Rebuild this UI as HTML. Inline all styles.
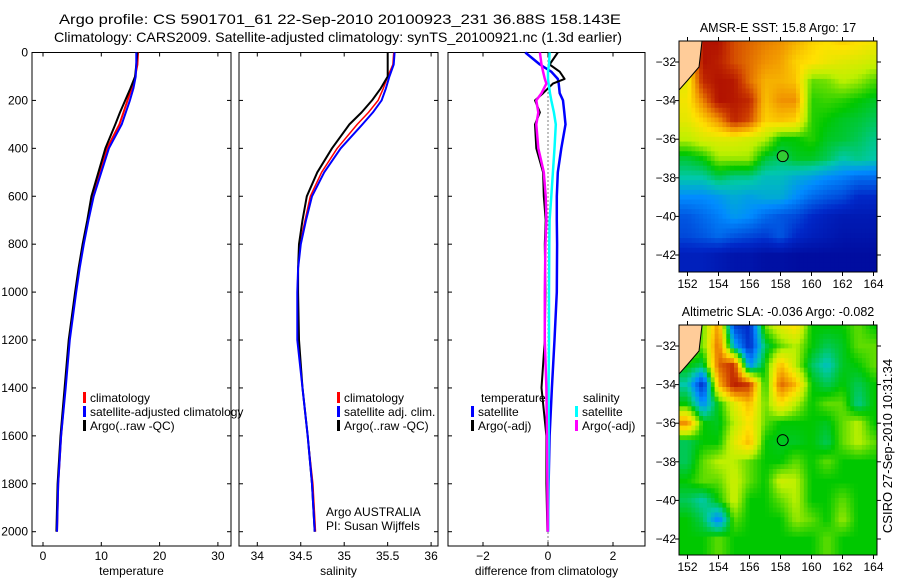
<!DOCTYPE html>
<html><head><meta charset="utf-8">
<style>
body{margin:0;background:#fff;}
svg{display:block;font-family:"Liberation Sans",sans-serif;}
text{font-size:12px;fill:#000;}
</style></head>
<body>
<svg id="chart" width="900" height="580" viewBox="0 0 900 580">
<text x="59" y="24" textLength="562" lengthAdjust="spacingAndGlyphs" style="font-size:14px">Argo profile: CS 5901701_61 22-Sep-2010 20100923_231 36.88S 158.143E</text>
<text x="54" y="42" textLength="568" lengthAdjust="spacingAndGlyphs" style="font-size:14px">Climatology: CARS2009. Satellite-adjusted climatology: synTS_20100921.nc (1.3d earlier)</text>
<text x="892" y="446" text-anchor="middle" transform="rotate(-90 892 446)" style="font-size:13px">CSIRO 27-Sep-2010 10:31:34</text>
</svg>
<script>
// ---- profile data ----
const depths = [0,50,100,150,200,250,300,400,500,600,700,800,900,1000,1200,1400,1600,1800,2000];
const tempClim = [16.3,16.2,15.8,15.2,14.5,13.8,13.1,11.0,9.7,8.5,7.7,6.9,6.2,5.6,4.5,3.8,3.1,2.6,2.4];
const tempSat = [16.0,16.0,15.9,15.5,14.9,14.2,13.5,11.3,10.0,8.7,7.8,7.0,6.3,5.7,4.6,3.9,3.1,2.6,2.4];
const tempArgo = [16.2,16.0,15.8,15.0,14.1,13.2,12.4,10.7,9.5,8.3,7.6,6.8,6.1,5.5,4.4,3.7,3.0,2.5,2.3];
const salClim = [35.57,35.56,35.5,35.45,35.39,35.28,35.15,34.92,34.74,34.61,34.55,34.49,34.47,34.46,34.47,34.52,34.58,34.64,34.67];
const salSat = [35.58,35.57,35.52,35.48,35.43,35.33,35.21,34.96,34.77,34.63,34.56,34.50,34.47,34.46,34.46,34.52,34.58,34.63,34.66];
const salArgo = [35.5,35.5,35.5,35.42,35.32,35.2,35.06,34.86,34.69,34.57,34.52,34.48,34.47,34.47,34.48,34.52,34.58,34.63,34.66];
const diffDepths = [0,50,80,110,130,170,200,250,300,400,500,600,700,800,1000,1200,1400,1600,1800,2000];
const diffTempSat = [-0.7,-0.25,0.1,0.3,0.33,0.36,0.46,0.5,0.54,0.41,0.3,0.27,0.27,0.28,0.27,0.2,0.12,0.05,0.02,0.0];
const diffTempArgo = [0.3,0.05,0.36,0.51,0.15,-0.15,-0.4,-0.25,-0.4,-0.36,-0.15,-0.13,-0.07,-0.1,-0.08,-0.1,-0.2,-0.05,-0.05,-0.02];
const diffSalSat = [0.05,0.03,0.0,0.0,0.02,0.06,0.1,0.18,0.24,0.2,0.15,0.1,0.05,0.04,0.03,0.03,0.02,0.02,0.01,0.0];
const diffSalArgo = [-0.25,-0.2,-0.15,-0.1,-0.05,-0.2,-0.36,-0.3,-0.36,-0.3,-0.13,-0.07,-0.05,-0.08,-0.1,-0.1,-0.05,-0.03,-0.02,-0.01];
const depthTicks = [0,200,400,600,800,1000,1200,1400,1600,1800,2000];
const tempTicks = [0,10,20,30];
const salTicks = [34,34.5,35,35.5,36];
const diffTicks = [-2,0,2];
// ---- map data (colormap fraction, rows lat -31..-42, cols lon 152..164) ----
const mapLons = [152,153,154,155,156,157,158,159,160,161,162,163,164];
const mapLats = [-31,-32,-33,-34,-35,-36,-37,-38,-39,-40,-41,-42];
const sstGrid = [
[0.7,0.97,0.97,0.88,0.85,0.82,0.8,0.76,0.72,0.7,0.72,0.7,0.68],
[0.68,0.97,0.95,0.88,0.84,0.8,0.78,0.72,0.7,0.67,0.65,0.64,0.62],
[0.66,0.93,0.97,0.96,0.84,0.76,0.76,0.74,0.55,0.56,0.6,0.58,0.54],
[0.68,0.82,0.97,0.96,0.93,0.74,0.8,0.8,0.52,0.53,0.52,0.5,0.48],
[0.66,0.72,0.8,0.94,0.88,0.72,0.74,0.72,0.52,0.5,0.48,0.47,0.45],
[0.6,0.64,0.65,0.65,0.63,0.6,0.5,0.5,0.52,0.48,0.47,0.45,0.42],
[0.47,0.5,0.58,0.58,0.58,0.47,0.44,0.48,0.48,0.45,0.4,0.42,0.4],
[0.4,0.4,0.45,0.42,0.42,0.38,0.38,0.35,0.33,0.3,0.28,0.25,0.25],
[0.3,0.3,0.32,0.35,0.33,0.35,0.35,0.3,0.25,0.22,0.2,0.15,0.15],
[0.22,0.25,0.28,0.32,0.3,0.25,0.22,0.2,0.15,0.12,0.1,0.1,0.1],
[0.2,0.22,0.25,0.22,0.2,0.18,0.22,0.15,0.12,0.1,0.08,0.08,0.08],
[0.12,0.12,0.1,0.08,0.08,0.06,0.06,0.05,0.05,0.05,0.05,0.05,0.05]];
const slaGrid = [
[0.5,0.55,0.8,0.2,0.15,0.55,0.65,0.7,0.5,0.5,0.5,0.55,0.5],
[0.6,0.55,0.85,0.35,0.15,0.45,0.55,0.6,0.5,0.45,0.48,0.55,0.55],
[0.5,0.45,0.85,0.92,0.3,0.5,0.75,0.6,0.45,0.38,0.48,0.5,0.55],
[0.4,0.15,0.75,0.95,0.9,0.5,0.85,0.75,0.5,0.45,0.5,0.45,0.5],
[0.5,0.3,0.5,0.65,0.75,0.55,0.7,0.6,0.5,0.55,0.55,0.42,0.5],
[0.8,0.5,0.48,0.6,0.7,0.55,0.5,0.5,0.5,0.48,0.55,0.6,0.5],
[0.45,0.5,0.5,0.65,0.75,0.5,0.48,0.48,0.5,0.45,0.55,0.6,0.55],
[0.45,0.55,0.6,0.6,0.55,0.5,0.5,0.55,0.5,0.55,0.5,0.5,0.5],
[0.5,0.55,0.55,0.62,0.55,0.5,0.62,0.6,0.5,0.5,0.5,0.5,0.5],
[0.45,0.4,0.5,0.62,0.5,0.5,0.55,0.6,0.5,0.5,0.55,0.5,0.5],
[0.5,0.45,0.28,0.55,0.5,0.5,0.5,0.58,0.55,0.5,0.58,0.5,0.5],
[0.5,0.5,0.55,0.5,0.5,0.5,0.5,0.5,0.5,0.55,0.5,0.5,0.5]];
const argoLon = 158.143, argoLat = -36.88;

const svg = document.getElementById('chart');
const NS = 'http://www.w3.org/2000/svg';
function mk(tag, attrs, parent){const e=document.createElementNS(NS,tag);for(const k in attrs)e.setAttribute(k,attrs[k]);(parent||svg).appendChild(e);return e;}

const top0 = 52.5, bot = 546, dpx = 0.2396;
const yD = d => top0 + d*dpx;
const panels = [
 {x0:32,x1:231,xf:v=>43+5.83*v,ticks:tempTicks,label:'temperature',name:'temperature'},
 {x0:239,x1:438,xf:v=>257.3+86.9*(v-34),ticks:salTicks,label:'salinity',name:'salinity'},
 {x0:448,x1:645,xf:v=>548+32.5*v,ticks:diffTicks,label:'difference from climatology',name:'difference'}
];
panels.forEach((p,i)=>{
 const g = mk('g',{});
 
 
 const r = mk('rect',{x:p.x0,y:top0,width:p.x1-p.x0,height:bot-top0,fill:'none',stroke:'#000','stroke-width':1},g);
 
 
 depthTicks.forEach(d=>{
  mk('line',{x1:p.x0,x2:p.x0+4,y1:yD(d),y2:yD(d),stroke:'#000'},g);
  mk('line',{x1:p.x1,x2:p.x1-4,y1:yD(d),y2:yD(d),stroke:'#000'},g);
  if(i===0){const t=mk('text',{x:28,y:yD(d)+4,'text-anchor':'end'},g);t.textContent=d;
   
   }
 });
 p.ticks.forEach(v=>{
  const x=p.xf(v);
  mk('line',{x1:x,x2:x,y1:top0,y2:top0+4,stroke:'#000'},g);
  mk('line',{x1:x,x2:x,y1:bot,y2:bot-4,stroke:'#000'},g);
  const t=mk('text',{x:x,y:560,'text-anchor':'middle'},g);t.textContent=(v<0?'\u2212':'')+Math.abs(v);
  
  
 });
 const at=mk('text',{x:(p.x0+p.x1)/2,y:575,'text-anchor':'middle'},g);at.textContent=p.label;
 
 
});
function line(panel, vals, ds, color, w, name){
 const pts = vals.map((v,k)=>panel.xf(v).toFixed(1)+','+yD(ds[k]).toFixed(1)).join(' ');
 const l = mk('polyline',{points:pts,fill:'none',stroke:color,'stroke-width':w,'stroke-linejoin':'round'});
 
 
}
const z=mk('line',{x1:548,x2:548,y1:top0,y2:bot,stroke:'#000','stroke-dasharray':'1,3'});


line(panels[0],tempClim,depths,'#f00',2,'temperature-climatology-line');
line(panels[0],tempArgo,depths,'#000',2,'temperature-argo-line');
line(panels[0],tempSat,depths,'#00f',2,'temperature-satellite-line');
line(panels[1],salClim,depths,'#f00',1.5,'salinity-climatology-line');
line(panels[1],salArgo,depths,'#000',2,'salinity-argo-line');
line(panels[1],salSat,depths,'#00f',2,'salinity-satellite-line');
line(panels[2],diffTempSat,diffDepths,'#00f',2.5,'diff-temperature-satellite-line');
line(panels[2],diffTempArgo,diffDepths,'#000',2,'diff-temperature-argo-line');
line(panels[2],diffSalSat,diffDepths,'#0ff',2.5,'diff-salinity-satellite-line');
line(panels[2],diffSalArgo,diffDepths,'#f0f',2.5,'diff-salinity-argo-line');

function legend(x,y,color,label,name){
 const g=mk('g',{});
 
 
 if(color) mk('rect',{x:x,y:y-10,width:3,height:11,fill:color},g);
 const t=mk('text',{x:x+7,y:y},g);t.textContent=label;
}
legend(83,402,'#f00','climatology','legend-entry-climatology');
legend(83,416,'#00f','satellite-adjusted climatology','legend-entry-satellite-adjusted');
legend(83,430,'#000','Argo(..raw -QC)','legend-entry-argo');
legend(337,402,'#f00','climatology','legend-entry-sal-climatology');
legend(337,416,'#00f','satellite adj. clim.','legend-entry-sal-satellite');
legend(337,430,'#000','Argo(..raw -QC)','legend-entry-sal-argo');
legend(474,402,null,'temperature','legend-heading-temperature');
legend(471,416,'#00f','satellite','legend-entry-diff-temp-satellite');
legend(471,430,'#000','Argo(-adj)','legend-entry-diff-temp-argo');
legend(576,402,null,'salinity','legend-heading-salinity');
legend(575,416,'#0ff','satellite','legend-entry-diff-sal-satellite');
legend(575,430,'#f0f','Argo(-adj)','legend-entry-diff-sal-argo');
const c1=mk('text',{x:326,y:516});c1.textContent='Argo AUSTRALIA';

const c2=mk('text',{x:326,y:530});c2.textContent='PI: Susan Wijffels';


// colormap
const cmapStops=[[0,[0,0,140]],[0.15,[0,40,200]],[0.3,[0,140,255]],[0.4,[0,200,170]],[0.5,[0,200,0]],[0.6,[190,240,0]],[0.7,[255,225,0]],[0.8,[240,145,0]],[0.9,[205,60,0]],[1,[165,0,0]]];
function cmap(v){
 v=Math.max(0,Math.min(1,v));
 for(let i=1;i<cmapStops.length;i++){
  if(v<=cmapStops[i][0]){
   const [a,ca]=cmapStops[i-1],[b,cb]=cmapStops[i];const t=(v-a)/(b-a);
   return 'rgb('+ca.map((c,k)=>Math.round(c+(cb[k]-c)*t)).join(',')+')';
  }
 }
 return 'rgb(165,0,0)';
}
function sample(grid,lat,lon){
 let r=(-31-lat), c=(lon-152);
 r=Math.max(0,Math.min(grid.length-1,r)); c=Math.max(0,Math.min(grid[0].length-1,c));
 const r0=Math.floor(r),c0=Math.floor(c),r1=Math.min(r0+1,grid.length-1),c1=Math.min(c0+1,grid[0].length-1);
 const fr=r-r0,fc=c-c0;
 return grid[r0][c0]*(1-fr)*(1-fc)+grid[r0][c1]*(1-fr)*fc+grid[r1][c0]*fr*(1-fc)+grid[r1][c1]*fr*fc;
}
function drawMap(ytop,ybot,grid,title,name,filled){
 const x0=679,x1=877;
 const xL=lon=>687.5+15.5*(lon-152);
 const yL=lat=>ytop+21+19.3*(-32-lat);
 const g=mk('g',{});
 
 
 const cid=name+'-clip';
 const cp=mk('clipPath',{id:cid},g);mk('rect',{x:x0,y:ytop,width:x1-x0,height:ybot-ytop},cp);
 const cells=mk('g',{'clip-path':'url(#'+cid+')'},g);
 const step=0.25;
 for(let lat=-30.75;lat>=-43;lat-=step){
  for(let lon=151.375;lon<=164.5;lon+=step){
   const c=mk('rect',{x:xL(lon-step/2).toFixed(1),y:yL(lat+step/2).toFixed(1),width:(15.5*step+0.6).toFixed(1),height:(19.3*step+0.6).toFixed(1),fill:cmap(sample(grid,lat,lon))},cells);
   
   
  }
 }
 const land=mk('polygon',{points:`${x0},${ytop} ${x0+23},${ytop} ${x0+20},${ytop+26} ${x0+8},${ytop+40} ${x0},${ytop+49}`,fill:'#ffcc99',stroke:'#000','stroke-width':1},cells);
 
 
 mk('rect',{x:x0,y:ytop,width:x1-x0,height:ybot-ytop,fill:'none',stroke:'#000'},g);
 const mk1=mk('circle',{cx:xL(argoLon),cy:yL(argoLat),r:5.5,fill:filled?'#3c3':'none',stroke:'#000','stroke-width':1},g);
 
 
 [-32,-34,-36,-38,-40,-42].forEach(lat=>{
  mk('line',{x1:x0,x2:x0-4,y1:yL(lat),y2:yL(lat),stroke:'#000'},g);
  mk('line',{x1:x1,x2:x1+4,y1:yL(lat),y2:yL(lat),stroke:'#000'},g);
  const t=mk('text',{x:676,y:yL(lat)+4,'text-anchor':'end'},g);t.textContent='\u2212'+Math.abs(lat);
  
 });
 [152,154,156,158,160,162,164].forEach(lon=>{
  mk('line',{x1:xL(lon),x2:xL(lon),y1:ytop,y2:ytop-4,stroke:'#000'},g);
  mk('line',{x1:xL(lon),x2:xL(lon),y1:ybot,y2:ybot+4,stroke:'#000'},g);
  const t=mk('text',{x:xL(lon),y:ybot+16,'text-anchor':'middle'},g);t.textContent=lon;
  
 });
 const tt=mk('text',{x:(x0+x1)/2,y:ytop-9,'text-anchor':'middle',style:'font-size:12.5px'},g);tt.textContent=title;
 
}
drawMap(41,272,sstGrid,'AMSR-E SST: 15.8 Argo: 17','sst-map',true);
drawMap(325,555,slaGrid,'Altimetric SLA: -0.036 Argo: -0.082','sla-map',false);
</script>
</body></html>
